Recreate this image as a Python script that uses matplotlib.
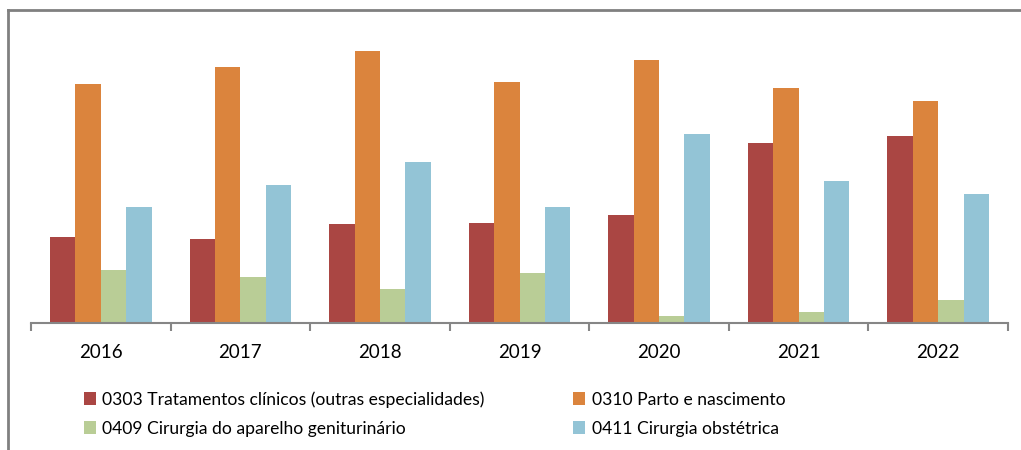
import numpy as np
import matplotlib
matplotlib.use('Agg')
import matplotlib.pyplot as plt
from matplotlib.lines import Line2D

years = ['2016', '2017', '2018', '2019', '2020', '2021', '2022']
series_names = [
    '0303 Tratamentos clínicos (outras especialidades)',
    '0310 Parto e nascimento',
    '0409 Cirurgia do aparelho geniturinário',
    '0411 Cirurgia obstétrica',
]
trat_clinicos = [86, 84, 99, 100, 108, 180, 187]
parto = [239, 256, 272, 241, 263, 235, 222]
cir_genit = [53, 46, 34, 50, 7, 11, 23]
cir_obst = [116, 138, 161, 116, 189, 142, 129]
colors = ['#AA4643', '#DB843D', '#B9CD96', '#93C4D6']

plt.rcParams['font.family'] = ['Lato', 'DejaVu Sans']

fig = plt.figure(figsize=(10.21, 4.5), dpi=100)
ax = fig.add_axes([31 / 1021, 1 - 323 / 450, 977 / 1021, 300 / 450])

x = np.arange(len(years))
width = 1 / 5.5
bars = []
for i, (vals, c) in enumerate(zip([trat_clinicos, parto, cir_genit, cir_obst], colors)):
    b = ax.bar(x + (i - 1.5) * width, vals, width, color=c, label=series_names[i])
    bars.append(b)

ax.set_xlim(-0.5, len(years) - 0.5)
ax.set_ylim(0, 300)
ax.set_yticks([])
for s in ['top', 'right', 'left']:
    ax.spines[s].set_visible(False)
ax.spines['bottom'].set_color('#868686')
ax.spines['bottom'].set_linewidth(1.5)

ax.set_xticks(np.arange(len(years) + 1) - 0.5)
ax.set_xticklabels([])
ax.tick_params(axis='x', which='major', length=6, width=1.5, color='#868686')
ax.set_xticks(x, minor=True)
ax.set_xticklabels(years, minor=True, fontsize=13.5)
ax.tick_params(axis='x', which='minor', length=0, pad=15)

# legend: two columns, row-wise order
order = [0, 2, 1, 3]
leg = fig.legend([bars[i] for i in order], [series_names[i] for i in order],
                 ncol=2, loc='upper left', bbox_to_anchor=(84 / 1021, 1 - 391 / 450),
                 frameon=False, fontsize=12.6, handlelength=0.7, handleheight=0.7,
                 handletextpad=0.35, columnspacing=5.05, labelspacing=0.75,
                 borderaxespad=0, borderpad=0)

# outer frame (top and left)
fig.add_artist(Line2D([8 / 1021, 1], [1 - 10 / 450, 1 - 10 / 450], color='#808080', lw=2))
fig.add_artist(Line2D([8 / 1021, 8 / 1021], [0, 1 - 10 / 450], color='#808080', lw=2))

fig.savefig('out.png', dpi=100)
